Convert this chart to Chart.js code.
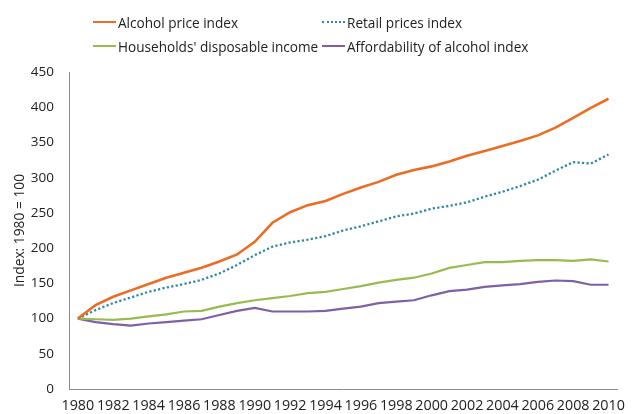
<!DOCTYPE html>
<html>
<head>
<meta charset="utf-8">
<script src="https://cdn.jsdelivr.net/npm/chart.js@4.4.1/dist/chart.umd.min.js"></script>
<style>
    body { margin: 0; background: #fff; }
    #wrap { position: relative; width: 633px; height: 414px; }
    #legend { position: absolute; left: 0; top: 0; width: 633px; height: 60px; font-family: "Open Sans", sans-serif; font-size: 13.6px; color: #222; }
    .item { position: absolute; display: flex; align-items: center; white-space: nowrap; }
    .swatch { width: 23px; height: 0; margin-right: 2px; }
</style>
</head>
<body>
<div id="wrap">
    <canvas id="chart" width="633" height="414"></canvas>
    <div id="legend"></div>
</div>
<script>
// Years on the category axis
const years = [];
for (let y = 1980; y <= 2010; y++) years.push(String(y));

// Series values (index, 1980 = 100)
const alcoholPrice = [100, 119, 131, 140, 149, 158, 165, 172, 181, 191, 209, 236, 251, 261, 267, 277,
    286, 294, 304, 311, 316, 323, 331, 338, 345, 352, 360, 371, 385, 399, 412];
const retailPrices = [100, 112, 122, 130, 138, 144, 149, 155, 164, 176, 190, 202, 208, 212, 217, 225,
    231, 238, 245, 249, 256, 260, 265, 273, 280, 288, 297, 310, 322, 320, 333];
const disposableIncome = [100, 99, 98, 100, 103, 106, 110, 111, 117, 122, 126, 129, 132, 136, 138, 142,
    146, 151, 155, 158, 164, 172, 176, 180, 180, 182, 183, 183, 182, 184, 181];
const affordability = [100, 95, 92, 90, 93, 95, 97, 99, 105, 111, 115, 110, 110, 110, 111, 114,
    117, 122, 124, 126, 133, 139, 141, 145, 147, 149, 152, 154, 153, 148, 148];

// y tick values
const yTicks = [0, 50, 100, 150, 200, 250, 300, 350, 400, 450];

const seriesNames = ["Alcohol price index", "Retail prices index", "Households' disposable income", "Affordability of alcohol index"];
const seriesColors = ["#ec6c24", "#2f88a4", "#96bc50", "#7f5fa6"];

const font = { family: "Open Sans", size: 13.5 };

const datasets = [
    { label: seriesNames[0], data: alcoholPrice, borderColor: seriesColors[0], borderWidth: 2.6 },
    { label: seriesNames[1], data: retailPrices, borderColor: seriesColors[1], borderWidth: 2.3, borderDash: [2.2, 2.3] },
    { label: seriesNames[2], data: disposableIncome, borderColor: seriesColors[2], borderWidth: 2.2 },
    { label: seriesNames[3], data: affordability, borderColor: seriesColors[3], borderWidth: 2.2 },
];

new Chart(document.getElementById("chart").getContext("2d"), {
    type: "line",
    data: { labels: years, datasets: datasets },
    options: {
        responsive: false,
        animation: false,
        layout: { padding: { top: 72, right: 7, bottom: 0, left: 0 } },
        elements: { point: { radius: 0 }, line: { tension: 0, fill: false } },
        plugins: { legend: { display: false }, tooltip: { enabled: false } },
        scales: {
            x: {
                offset: true,
                grid: { display: false, drawTicks: false },
                border: { color: "#8c8c8c", width: 1 },
                ticks: {
                    autoSkip: false,
                    maxRotation: 0,
                    padding: 8,
                    color: "#222",
                    font: { family: "Open Sans", size: 14.3 },
                    callback: (v, i) => (i % 2 === 0 ? years[i] : ""),
                },
                afterFit: (scale) => { scale.height = 25; },
            },
            y: {
                min: 0,
                max: 450,
                afterBuildTicks: (scale) => { scale.ticks = yTicks.map((v) => ({ value: v })); },
                grid: { display: false, drawTicks: false },
                border: { color: "#8c8c8c", width: 1 },
                ticks: { padding: 15, color: "#222", font: font },
                title: { display: true, text: "Index: 1980 = 100", color: "#222", font: { family: "Open Sans", size: 13.8 }, padding: { top: 12, bottom: 0 } },
                afterFit: (scale) => { scale.width = 69; },
            },
        },
    },
});

// Legend, two aligned columns like the original
const legendPos = [[93, 22], [322, 22], [93, 46], [322, 46]];
const legend = document.getElementById("legend");
seriesNames.forEach((name, i) => {
    const item = document.createElement("div");
    item.className = "item";
    item.style.left = legendPos[i][0] + "px";
    item.style.top = (legendPos[i][1] - 10) + "px";
    item.style.height = "20px";
    const sw = document.createElement("span");
    sw.className = "swatch";
    sw.style.borderTop = i === 1 ? `2.3px dotted ${seriesColors[i]}` : `2.5px solid ${seriesColors[i]}`;
    const txt = document.createElement("span");
    txt.textContent = name;
    item.appendChild(sw);
    item.appendChild(txt);
    legend.appendChild(item);
});
</script>
</body>
</html>
